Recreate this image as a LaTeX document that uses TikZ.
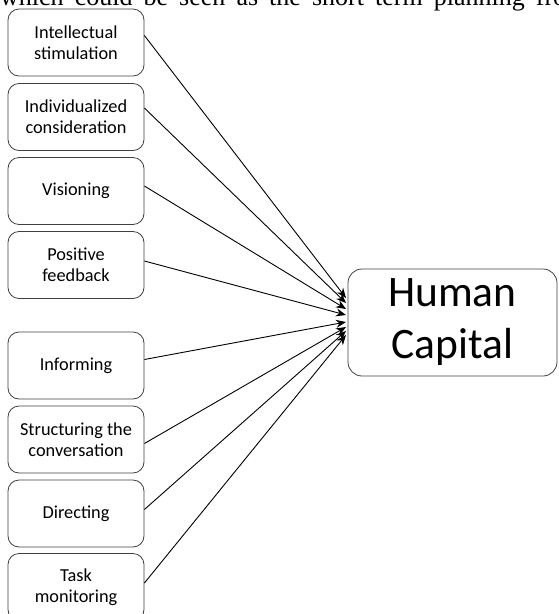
\documentclass[tikz,border=0pt]{standalone}
\usepackage{fontspec}
\setmainfont{Carlito}
\newfontfamily\serifpage{Liberation Serif}
\usetikzlibrary{arrows.meta}
\begin{document}
\begin{tikzpicture}[x=1pt,y=-1pt,
  leftbox/.style={draw=black!75, line width=0.8pt, rounded corners=11pt, minimum width=136pt, minimum height=67pt, align=center, font=\fontsize{18.3}{21.3}\selectfont, inner sep=2pt},
  hcbox/.style={draw=black!75, line width=0.8pt, rounded corners=14pt, minimum width=209pt, minimum height=107pt, align=center, font=\fontsize{43.5}{52}\selectfont},
  arr/.style={draw=black, line width=0.9pt, -{Stealth[length=10pt,width=8pt]}}]
\useasboundingbox (0,0) rectangle (558,614);
\clip (0,0) rectangle (558,614);
\node[anchor=base west, inner sep=0pt, font=\serifpage\fontsize{26}{30}\selectfont] (toptext) at (0,5) {\makebox[566pt][s]{which could be seen as the short term planning fro}};
\node[leftbox] (b1) at (76,42.5) {Intellectual\\stimulation};
\node[leftbox] (b2) at (76,117) {Individualized\\consideration};
\node[leftbox] (b3) at (76,191) {Visioning};
\node[leftbox] (b4) at (76,265) {Positive\\feedback};
\node[leftbox] (b5) at (76,365.5) {Informing};
\node[leftbox] (b6) at (76,439.5) {Structuring the\\conversation};
\node[leftbox] (b7) at (76,513.5) {Directing};
\node[leftbox] (b8) at (76,587) {Task\\monitoring};
\node[hcbox] (hc) at (452.5,322.5) {Human\\Capital};
\coordinate (t1) at (346,298);
\coordinate (t2) at (346,303);
\coordinate (t3) at (346,309);
\coordinate (t4) at (346,315);
\coordinate (t5) at (346,322);
\coordinate (t6) at (346,327);
\coordinate (t7) at (346,331);
\coordinate (t8) at (346,335);
\draw[arr] ([yshift=7pt]b1.east) -- (t1);
\draw[arr] ([yshift=9pt]b2.east) -- (t2);
\draw[arr] ([yshift=5pt]b3.east) -- (t3);
\draw[arr] ([yshift=4pt]b4.east) -- (t4);
\draw[arr] ([yshift=6pt]b5.east) -- (t5);
\draw[arr] ([yshift=-4pt]b6.east) -- (t6);
\draw[arr] ([yshift=4pt]b7.east) -- (t7);
\draw[arr] ([yshift=4pt]b8.east) -- (t8);
\end{tikzpicture}
\end{document}
